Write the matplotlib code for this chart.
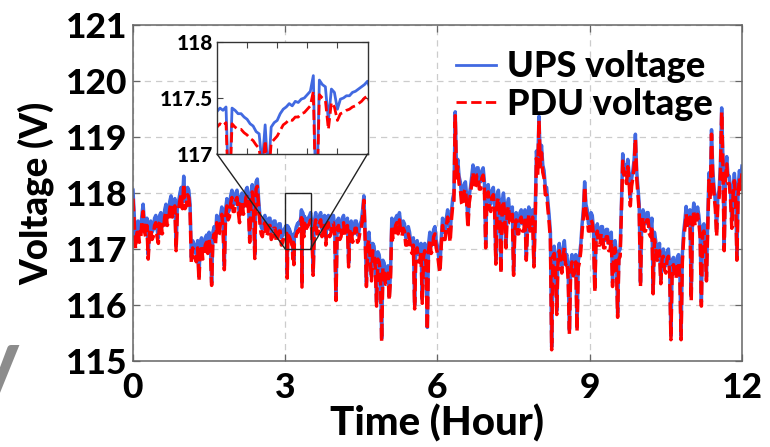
import matplotlib
matplotlib.use('Agg')
import matplotlib.pyplot as plt
import numpy as np
from matplotlib.patches import Rectangle, ConnectionPatch

# ---------------- data ----------------
# 0.000 h .. 2.975 h, every 0.025 h
ups_a = [118.05, 117.6, 117.15, 117.4, 117.5, 117.25, 117.3, 117.6, 117.8, 117.45,
         117.35, 117.55, 116.9, 117.4, 117.5, 117.3, 117.35, 117.55, 117.6, 117.35,
         117.2, 117.6, 117.65, 117.4, 117.45, 117.7, 117.8, 117.55, 117.6, 117.85,
         117.95, 117.7, 117.75, 117.9, 117.05, 117.8, 117.85, 118.0, 118.1, 117.85,
         118.3, 117.85, 117.9, 118.1, 118.05, 117.8, 116.85, 117.15, 117.1, 116.95,
         116.9, 117.15, 116.5, 117.1, 117.2, 116.95, 117.0, 117.2, 117.25, 117.05,
         117.3, 117.1, 116.4, 117.3, 117.4, 117.2, 117.6, 117.35, 117.4, 117.6,
         117.75, 117.5, 116.7, 117.7, 117.9, 117.65, 117.7, 117.95, 118.05, 117.8,
         117.8, 118.0, 118.05, 117.8, 117.6, 117.95, 118.0, 117.75, 117.8, 118.05,
         118.1, 117.85, 117.2, 118.0, 118.15, 117.9, 116.9, 118.2, 118.25, 117.9,
         117.6, 117.4, 117.35, 117.55, 117.6, 117.35, 117.4, 117.55, 117.55, 117.3,
         117.35, 117.5, 117.5, 117.25, 117.3, 117.45, 117.45, 117.2, 117.25, 117.35]
pdu_a = [117.9, 117.47, 117.0, 117.27, 117.37, 117.12, 117.17, 117.47, 117.67, 117.32,
         117.22, 117.42, 116.82, 117.27, 117.37, 117.17, 117.22, 117.42, 117.47, 117.22,
         117.1, 117.47, 117.52, 117.27, 117.32, 117.57, 117.67, 117.42, 117.47, 117.72,
         117.82, 117.57, 117.62, 117.77, 116.97, 117.67, 117.72, 117.87, 117.97, 117.72,
         118.17, 117.72, 117.77, 117.97, 117.92, 117.67, 116.75, 117.02, 116.97, 116.82,
         116.77, 117.02, 116.43, 116.97, 117.07, 116.82, 116.87, 117.07, 117.12, 116.92,
         117.17, 116.97, 116.35, 117.17, 117.27, 117.07, 117.47, 117.22, 117.27, 117.47,
         117.62, 117.37, 116.63, 117.57, 117.77, 117.52, 117.57, 117.82, 117.92, 117.67,
         117.67, 117.87, 117.92, 117.67, 117.47, 117.82, 117.87, 117.62, 117.67, 117.92,
         117.97, 117.72, 117.12, 117.87, 118.02, 117.77, 116.83, 118.07, 118.12, 117.77,
         117.47, 117.27, 117.22, 117.42, 117.47, 117.22, 117.27, 117.42, 117.42, 117.17,
         117.22, 117.37, 117.37, 117.12, 117.17, 117.32, 117.32, 117.07, 117.12, 117.22]

# zoomed window, 3.00 h .. 3.50 h every 0.01 h
ups_z = [117.38, 117.41, 117.39, 117.42, 116.55, 117.41, 117.39, 117.36, 117.36, 117.33,
         117.31, 117.27, 117.25, 117.20, 117.18, 116.90, 117.26, 116.80, 117.24, 117.28,
         117.30, 117.36, 117.40, 117.42, 117.45, 117.43, 117.47, 117.46, 117.49, 117.50,
         117.53, 117.56, 117.70, 116.40, 117.66, 117.62, 117.60, 117.30, 117.58, 117.55,
         117.40, 117.49, 117.50, 117.52, 117.52, 117.55, 117.56, 117.58, 117.60, 117.62,
         117.65]
pdu_z = [117.24, 117.27, 117.25, 117.28, 116.48, 117.27, 117.24, 117.22, 117.22, 117.19,
         117.17, 117.14, 117.12, 117.08, 117.05, 116.82, 117.12, 116.72, 117.10, 117.13,
         117.16, 117.21, 117.26, 117.28, 117.31, 117.30, 117.33, 117.33, 117.36, 117.37,
         117.40, 117.43, 117.56, 116.32, 117.53, 117.50, 117.48, 117.22, 117.46, 117.42,
         117.30, 117.36, 117.37, 117.39, 117.40, 117.42, 117.43, 117.45, 117.47, 117.50,
         117.52]

# 3.525 h .. 12.000 h, every 0.025 h
ups_b = [117.45,
         116.6, 117.5, 117.65, 117.4, 117.4, 117.6, 117.65, 117.35, 117.45, 117.6,
         117.2, 117.55, 117.6, 117.35, 117.4, 117.6, 117.6, 117.4, 116.15, 117.5,
         117.55, 117.3, 117.35, 117.55, 117.6, 117.35, 117.4, 117.55, 116.75, 117.45,
         117.5, 117.25, 117.3, 117.5, 117.5, 117.25, 117.3, 117.45, 117.5, 117.7,
         117.95, 117.3, 116.4, 117.2, 117.3, 116.95, 116.5, 117.1, 117.05, 116.8,
         116.05, 116.95, 116.9, 116.7, 115.4, 116.8, 116.75, 116.5, 116.55, 116.7,
         116.15, 116.6, 117.55, 117.3, 117.3, 117.55, 117.6, 117.4, 117.65, 117.45,
         117.35, 117.5, 117.45, 117.2, 117.2, 117.4, 117.3, 117.1, 117.05, 117.2,
         116.0, 117.1, 117.15, 116.9, 116.9, 117.1, 116.1, 117.0, 117.1, 116.85,
         115.6, 117.1, 117.3, 117.05, 117.1, 117.35, 117.4, 117.15, 117.05, 116.85,
         116.65, 117.2, 117.55, 117.3, 117.3, 117.55, 117.7, 117.45, 117.25, 117.65,
         117.9, 118.0, 119.45, 118.4, 118.6, 118.3, 118.2, 117.95, 117.9, 118.15,
         118.2, 117.95, 117.45, 117.95, 118.1, 118.3, 118.5, 118.2, 118.25, 118.45,
         118.45, 118.2, 118.2, 118.4, 118.45, 118.2, 117.1, 118.1, 118.15, 117.85,
         117.8, 118.05, 118.1, 117.85, 116.8, 117.95, 118.05, 117.8, 116.63, 117.85,
         118.0, 117.75, 117.1, 117.8, 117.9, 117.6, 117.6, 117.75, 116.6, 117.5,
         117.65, 117.4, 117.4, 117.65, 117.7, 117.45, 117.45, 117.7, 116.87, 117.5,
         117.75, 117.45, 117.5, 117.7, 116.75, 117.6, 118.75, 118.45, 119.37, 118.6,
         118.85, 118.5, 118.4, 118.1, 118.1, 117.85, 117.6, 117.3, 115.25, 117.0,
         117.05, 116.8, 115.9, 116.9, 117.1, 116.85, 116.7, 117.0, 117.15, 116.85,
         116.9, 116.6, 115.55, 116.75, 116.9, 116.65, 116.7, 116.9, 115.6, 116.8,
         116.9, 117.1, 117.45, 117.7, 118.2, 117.8, 117.7, 117.45, 117.45, 117.65,
         117.6, 117.35, 116.3, 117.3, 117.45, 117.2, 117.2, 117.4, 117.4, 117.15,
         117.15, 117.35, 117.35, 117.1, 117.1, 117.3, 116.4, 117.05, 117.15, 116.9,
         115.85, 116.95, 117.0, 117.8, 118.7, 118.45, 118.5, 118.3, 118.6, 118.35,
         117.9, 118.25, 118.4, 118.6, 119.05, 118.4, 118.1, 117.8, 116.4, 117.5,
         117.7, 117.45, 117.45, 117.65, 117.65, 117.4, 117.35, 117.55, 116.27, 117.3,
         117.15, 116.95, 116.9, 117.1, 116.45, 116.95, 117.0, 116.75, 116.7, 116.95,
         117.0, 116.7, 115.45, 116.8, 116.85, 116.6, 116.6, 116.85, 116.9, 116.65,
         115.45, 116.9, 117.3, 117.5, 117.76, 117.5, 117.5, 117.7, 116.15, 117.55,
         117.82, 117.55, 117.55, 117.75, 117.6, 117.35, 116.05, 117.4, 117.45, 117.2,
         116.5, 117.5, 118.36, 118.0, 119.13, 118.4, 118.1, 117.85, 117.35, 117.95,
         118.05, 118.5, 119.52, 118.6, 117.05, 118.4, 118.65, 118.3, 118.3, 118.0,
         117.5, 118.1, 118.35, 118.05, 116.87, 118.1, 118.4, 118.2, 118.48]
pdu_b = [117.32,
         116.53, 117.37, 117.52, 117.27, 117.27, 117.47, 117.52, 117.22, 117.32, 117.47,
         117.07, 117.42, 117.47, 117.22, 117.27, 117.47, 117.47, 117.27, 116.08, 117.37,
         117.42, 117.17, 117.22, 117.42, 117.47, 117.22, 117.27, 117.42, 116.68, 117.32,
         117.37, 117.12, 117.17, 117.37, 117.37, 117.12, 117.17, 117.32, 117.37, 117.57,
         117.87, 117.17, 116.33, 117.07, 117.17, 116.82, 116.43, 116.97, 116.92, 116.67,
         115.98, 116.82, 116.77, 116.57, 115.35, 116.67, 116.62, 116.37, 116.42, 116.57,
         116.08, 116.47, 117.42, 117.17, 117.17, 117.42, 117.47, 117.27, 117.52, 117.32,
         117.22, 117.37, 117.32, 117.07, 117.07, 117.27, 117.17, 116.97, 116.92, 117.07,
         115.93, 116.97, 117.02, 116.77, 116.77, 116.97, 116.03, 116.87, 116.97, 116.72,
         115.55, 116.97, 117.17, 116.92, 116.97, 117.22, 117.27, 117.02, 116.92, 116.72,
         116.58, 117.07, 117.42, 117.17, 117.17, 117.42, 117.57, 117.32, 117.12, 117.52,
         117.77, 117.87, 119.38, 118.27, 118.47, 118.17, 118.07, 117.82, 117.77, 118.02,
         118.07, 117.82, 117.37, 117.82, 117.97, 118.17, 118.37, 118.07, 118.12, 118.32,
         118.32, 118.07, 118.07, 118.27, 118.32, 118.07, 117.02, 117.97, 118.02, 117.72,
         117.67, 117.92, 117.97, 117.72, 116.73, 117.82, 117.92, 117.67, 116.56, 117.72,
         117.87, 117.62, 117.02, 117.67, 117.77, 117.47, 117.47, 117.62, 116.53, 117.37,
         117.52, 117.27, 117.27, 117.52, 117.57, 117.32, 117.32, 117.57, 116.8, 117.37,
         117.62, 117.32, 117.37, 117.57, 116.68, 117.47, 118.62, 118.32, 119.3, 118.47,
         118.72, 118.37, 118.27, 117.97, 117.97, 117.72, 117.47, 117.17, 115.2, 116.87,
         116.92, 116.67, 115.83, 116.77, 116.97, 116.72, 116.57, 116.87, 117.02, 116.72,
         116.77, 116.47, 115.48, 116.62, 116.77, 116.52, 116.57, 116.77, 115.53, 116.67,
         116.77, 116.97, 117.32, 117.57, 118.12, 117.67, 117.57, 117.32, 117.32, 117.52,
         117.47, 117.22, 116.23, 117.17, 117.32, 117.07, 117.07, 117.27, 117.27, 117.02,
         117.02, 117.22, 117.22, 116.97, 116.97, 117.17, 116.33, 116.92, 117.02, 116.77,
         115.78, 116.82, 116.87, 117.67, 118.57, 118.32, 118.37, 118.17, 118.47, 118.22,
         117.77, 118.12, 118.27, 118.47, 118.97, 118.27, 117.97, 117.67, 116.33, 117.37,
         117.57, 117.32, 117.32, 117.52, 117.52, 117.27, 117.22, 117.42, 116.2, 117.17,
         117.02, 116.82, 116.77, 116.97, 116.38, 116.82, 116.87, 116.62, 116.57, 116.82,
         116.87, 116.57, 115.38, 116.67, 116.72, 116.47, 116.47, 116.72, 116.77, 116.52,
         115.38, 116.77, 117.17, 117.37, 117.63, 117.37, 117.37, 117.57, 116.08, 117.42,
         117.69, 117.42, 117.42, 117.62, 117.47, 117.22, 115.98, 117.27, 117.32, 117.07,
         116.43, 117.37, 118.23, 117.87, 119.05, 118.27, 117.97, 117.72, 117.22, 117.82,
         117.92, 118.37, 119.45, 118.47, 116.97, 118.27, 118.52, 118.17, 118.17, 117.87,
         117.37, 117.97, 118.22, 117.92, 116.8, 117.97, 118.27, 118.07, 118.35]

x_ticks = [0, 3, 6, 9, 12]
y_ticks = [115, 116, 117, 118, 119, 120, 121]
inset_xticks = [3.1, 3.2, 3.3, 3.4]
inset_yticks = [117, 117.5, 118]
inset_yticklabels = ['117', '117.5', '118']
labels = ['UPS voltage', 'PDU voltage']
zoom_window = (3.0, 3.5, 117.0, 118.0)

# sampling grids (hours)
def hours(start, step, n):
    return start + np.arange(n) * step

t_ups = np.concatenate([hours(0.0, 0.025, len(ups_a)), hours(3.0, 0.01, len(ups_z)),
                        hours(3.525, 0.025, len(ups_b))])
t_pdu = np.concatenate([hours(0.0, 0.025, len(pdu_a)), hours(3.0, 0.01, len(pdu_z)),
                        hours(3.525, 0.025, len(pdu_b))])
ups_all = np.concatenate([ups_a, ups_z, ups_b])
pdu_all = np.concatenate([pdu_a, pdu_z, pdu_b])

# ---------------- styling ----------------
plt.rcParams['font.family'] = ['Lato', 'DejaVu Sans']
plt.rcParams['font.weight'] = 'black'
plt.rcParams['axes.labelweight'] = 'black'

BLUE = '#4169E1'
RED = '#FF0000'
LW_MAIN = 2.5
LW_INSET = 2.0

fig = plt.figure(figsize=(7.7, 4.47), dpi=100)
ax = fig.add_axes([0.1727, 0.1924, 0.7909, 0.7516])

ax.plot(t_ups, ups_all, color=BLUE, lw=LW_MAIN, label=labels[0])
ax.plot(t_pdu, pdu_all, color=RED, lw=LW_MAIN, ls='--', label=labels[1])

ax.set_xlim(0, 12)
ax.set_ylim(115, 121)
ax.set_xticks(x_ticks)
ax.set_yticks(y_ticks)
ax.grid(True, color='#cccccc', ls='--', lw=0.9, dashes=(5, 4))
ax.set_axisbelow(True)
ax.tick_params(direction='in', top=True, right=True, length=5, width=0.9,
               labelsize=25.5, color='#666666')
ax.tick_params(axis='x', pad=8)
ax.tick_params(axis='y', pad=4)
for s in ax.spines.values():
    s.set_color('#666666')
    s.set_linewidth(1.1)

ax.set_xlabel('Time (Hour)', fontsize=29, labelpad=0)
ax.set_ylabel('Voltage (V)', fontsize=26.5, labelpad=8)

leg = ax.legend(loc='upper right', bbox_to_anchor=(0.952, 0.925), frameon=False,
                fontsize=26, handlelength=1.1, handletextpad=0.3, labelspacing=0.12,
                borderpad=0, borderaxespad=0)
for h in leg.get_lines():
    h.set_linewidth(2.0)

# ---------------- inset ----------------
axins = fig.add_axes([0.2818, 0.6555, 0.1955, 0.2505])
axins.plot(t_ups, ups_all, color=BLUE, lw=LW_INSET)
axins.plot(t_pdu, pdu_all, color=RED, lw=LW_INSET, ls='--')
axins.set_xlim(zoom_window[0], zoom_window[1])
axins.set_ylim(zoom_window[2], zoom_window[3])
axins.set_xticks(inset_xticks)
axins.set_xticklabels([])
axins.set_yticks(inset_yticks)
axins.set_yticklabels(inset_yticklabels)
axins.tick_params(direction='in', top=True, right=True, length=4, width=0.8,
                  labelsize=15, pad=3, color='#444444')
for s in axins.spines.values():
    s.set_color('#333333')
    s.set_linewidth(1.0)

# zoom box + connector lines
x0, x1, y0, y1 = zoom_window
ax.add_patch(Rectangle((x0, y0), x1 - x0, y1 - y0, fill=False, ec='#222222',
                       lw=1.0, ls='-', zorder=6))
for (xa, xb) in [((0, 0), (x0, y0)), ((1, 0), (x1, y0))]:
    con = ConnectionPatch(xyA=xa, coordsA=axins.transAxes, xyB=xb, coordsB=ax.transData,
                          color='#222222', lw=1.0, ls='-', zorder=6)
    fig.add_artist(con)

# partially visible glyph at the left edge of the reference
fig.text(-0.008, 0.16, 'V', fontsize=50, color='#8c8c8c', ha='center', va='center')

fig.savefig('out.png', dpi=100)
